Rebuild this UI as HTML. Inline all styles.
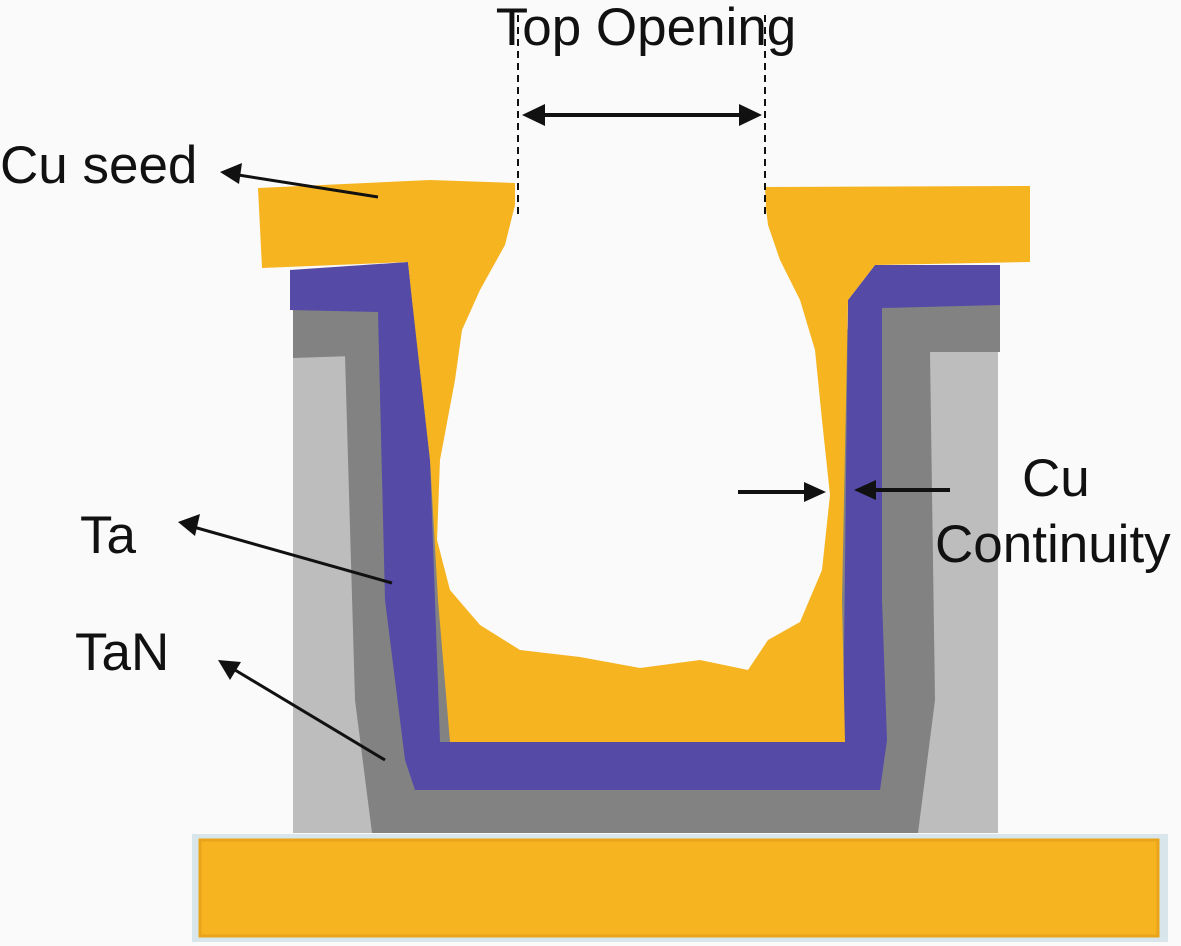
<!DOCTYPE html>
<html><head><style>
html,body{margin:0;padding:0;background:#fafafa;}
svg{display:block;}
text{font-family:"Liberation Sans",sans-serif;fill:#111;}
</style></head><body>
<svg width="1181" height="946" viewBox="0 0 1181 946">
<rect width="1181" height="946" fill="#fafafa"/>
<!-- base -->
<rect x="192" y="834" width="976" height="108" fill="#d8e6ec"/>
<rect x="200" y="840" width="958" height="96" fill="#f6b421" stroke="#e9a41a" stroke-width="3"/>
<!-- light gray -->
<rect x="293" y="330" width="80" height="503" fill="#bdbdbd"/>
<rect x="905" y="330" width="93" height="503" fill="#bdbdbd"/>
<!-- dark gray TaN -->
<polygon fill="#828282" points="293,300 380,300 380,310 340,330 345,355 355,700 372,833 918,833 935,700 930,352 1000,352 1000,305 880,305 870,330"/>
<polygon fill="#828282" points="293,300 380,300 382,355 293,358"/>
<!-- purple Ta -->
<polygon fill="#554aa5" points="290,270 408,262 430,460 440,742 843,742 848,300 875,265 1000,265 1000,305 882,308 882,600 887,740 880,790 415,790 405,760 385,600 378,312 290,310"/>
<!-- orange Cu -->
<polygon fill="#f6b421" points="258,188 430,180 515,183 515,205 766,205 765,187 1030,186 1030,262 875,265 848,300 842,600 845,742 450,742 438,600 430,460 412,300 408,262 262,268"/>
<!-- void -->
<polygon fill="#fafafa" points="515,150 515,205 505,245 480,290 462,330 455,380 440,460 437,540 450,590 480,625 520,650 580,657 640,668 700,660 748,670 768,640 800,622 822,570 830,495 822,420 815,350 800,300 780,260 768,225 765,200 765,150"/>
<!-- dashed lines -->
<line x1="518" y1="15" x2="518" y2="215" stroke="#111" stroke-width="2" stroke-dasharray="7,5"/>
<line x1="765" y1="15" x2="765" y2="215" stroke="#111" stroke-width="2" stroke-dasharray="7,5"/>
<!-- double arrow -->
<line x1="535" y1="115" x2="750" y2="115" stroke="#111" stroke-width="4"/>
<polygon points="522,115 545,104 545,126" fill="#111"/>
<polygon points="762,115 739,104 739,126" fill="#111"/>
<!-- label arrows -->
<line x1="378" y1="197" x2="232" y2="174" stroke="#111" stroke-width="3"/>
<polygon points="220,172 242,163 239,184" fill="#111"/>
<line x1="392" y1="583" x2="190" y2="526" stroke="#111" stroke-width="3"/>
<polygon points="178,522 200,514 195,536" fill="#111"/>
<line x1="385" y1="760" x2="230" y2="667" stroke="#111" stroke-width="3"/>
<polygon points="218,660 241,662 230,680" fill="#111"/>
<line x1="738" y1="492" x2="810" y2="492" stroke="#111" stroke-width="4"/>
<polygon points="826,492 804,482 804,502" fill="#111"/>
<line x1="950" y1="490" x2="870" y2="490" stroke="#111" stroke-width="4"/>
<polygon points="854,490 876,480 876,500" fill="#111"/>
<!-- text -->
<text x="646" y="45" font-size="53" text-anchor="middle">Top Opening</text>
<text x="0" y="183" font-size="53">Cu seed</text>
<text x="80" y="553" font-size="53">Ta</text>
<text x="75" y="670" font-size="53">TaN</text>
<text x="1022" y="496" font-size="53">Cu</text>
<text x="935" y="562" font-size="53">Continuity</text>
</svg>
</body></html>
